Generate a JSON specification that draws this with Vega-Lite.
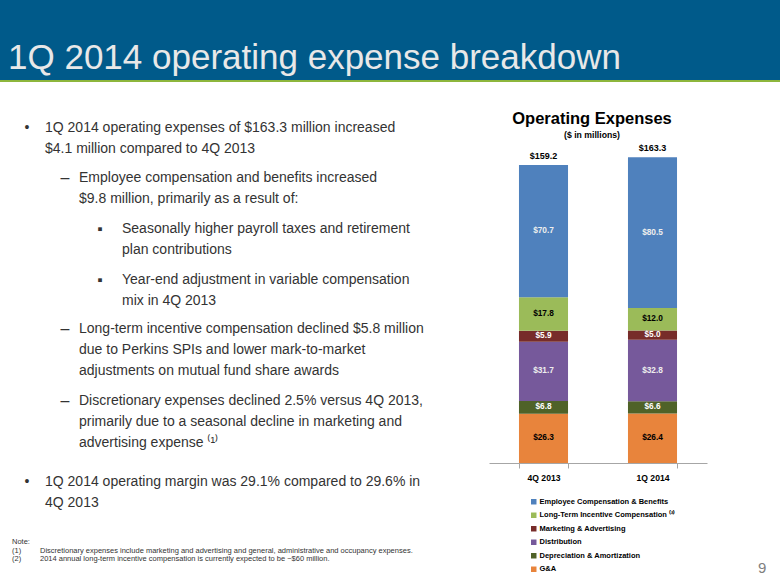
{
  "$schema": "https://vega.github.io/schema/vega-lite/v6.json",
  "padding": 0,
  "background": "white",
  "spacing": 0,
  "config": {
    "view": {"stroke": null},
    "concat": {"spacing": 0},
    "font": "Liberation Sans, Arial, sans-serif"
  },
  "datasets": {
    "bullets": [
      {"para": 1, "line": 1, "level": 0, "marker": "•", "text": "1Q 2014 operating expenses of $163.3 million increased"},
      {"para": 1, "line": 2, "level": 0, "marker": "", "text": "$4.1 million compared to 4Q 2013"},
      {"para": 2, "line": 1, "level": 1, "marker": "–", "text": "Employee compensation and benefits increased"},
      {"para": 2, "line": 2, "level": 1, "marker": "", "text": "$9.8 million, primarily as a result of:"},
      {"para": 3, "line": 1, "level": 2, "marker": "▪", "text": "Seasonally higher payroll taxes and retirement"},
      {"para": 3, "line": 2, "level": 2, "marker": "", "text": "plan contributions"},
      {"para": 4, "line": 1, "level": 2, "marker": "▪", "text": "Year-end adjustment in variable compensation"},
      {"para": 4, "line": 2, "level": 2, "marker": "", "text": "mix in 4Q 2013"},
      {"para": 5, "line": 1, "level": 1, "marker": "–", "text": "Long-term incentive compensation declined $5.8 million"},
      {"para": 5, "line": 2, "level": 1, "marker": "", "text": "due to Perkins SPIs and lower mark-to-market"},
      {"para": 5, "line": 3, "level": 1, "marker": "", "text": "adjustments on mutual fund share awards"},
      {"para": 6, "line": 1, "level": 1, "marker": "–", "text": "Discretionary expenses declined 2.5% versus 4Q 2013,"},
      {"para": 6, "line": 2, "level": 1, "marker": "", "text": "primarily due to a seasonal decline in marketing and"},
      {"para": 6, "line": 3, "level": 1, "marker": "", "text": "advertising expense ⁽¹⁾"},
      {"para": 7, "line": 1, "level": 0, "marker": "•", "text": "1Q 2014 operating margin was 29.1% compared to 29.6% in"},
      {"para": 7, "line": 2, "level": 0, "marker": "", "text": "4Q 2013"}
    ],
    "expenses": [
      {"quarter": "4Q 2013", "category": "G&A", "value": 26.3},
      {"quarter": "4Q 2013", "category": "Depreciation & Amortization", "value": 6.8},
      {"quarter": "4Q 2013", "category": "Distribution", "value": 31.7},
      {"quarter": "4Q 2013", "category": "Marketing & Advertising", "value": 5.9},
      {"quarter": "4Q 2013", "category": "Long-Term Incentive Compensation", "value": 17.8},
      {"quarter": "4Q 2013", "category": "Employee Compensation & Benefits", "value": 70.7},
      {"quarter": "1Q 2014", "category": "G&A", "value": 26.4},
      {"quarter": "1Q 2014", "category": "Depreciation & Amortization", "value": 6.6},
      {"quarter": "1Q 2014", "category": "Distribution", "value": 32.8},
      {"quarter": "1Q 2014", "category": "Marketing & Advertising", "value": 5.0},
      {"quarter": "1Q 2014", "category": "Long-Term Incentive Compensation", "value": 12.0},
      {"quarter": "1Q 2014", "category": "Employee Compensation & Benefits", "value": 80.5}
    ],
    "notes": [
      {"line": 1, "col": 0, "t": "Note:"},
      {"line": 2, "col": 0, "t": "(1)"},
      {"line": 2, "col": 1, "t": "Discretionary expenses include marketing and advertising and general, administrative and occupancy expenses."},
      {"line": 3, "col": 0, "t": "(2)"},
      {"line": 3, "col": 1, "t": "2014 annual long-term incentive compensation is currently expected to be ~$60 million."}
    ]
  },
  "vconcat": [
    {
      "width": 780,
      "height": 80,
      "view": {"fill": "#005a8a", "stroke": null},
      "title": {"text": "1Q 2014 operating expense breakdown", "orient": "bottom", "anchor": "start", "frame": "group", "offset": -11, "dx": 8, "baseline": "alphabetic", "font": "Liberation Sans", "fontSize": 35, "fontWeight": "normal", "color": "#e8e8e8"},
      "data": {"values": []},
      "mark": "point"
    },
    {
      "width": 780,
      "height": 2,
      "view": {"fill": "#8db63c", "stroke": null},
      "data": {"values": []},
      "mark": "point"
    },
    {
      "spacing": 0,
      "hconcat": [
        {
          "spacing": 0,
          "vconcat": [
            {"width": 489, "height": 35, "data": {"values": []}, "mark": "point"},
            {"width": 489, "height": 50, "data": {"name": "bullets"}, "transform": [{"filter": "datum.para == 1"}],
             "layer": [
               {"mark": {"type": "text", "align": "center", "baseline": "middle", "fontSize": 14, "color": "#333333"},
                "encoding": {"x": {"field": "level", "type": "quantitative", "scale": {"domain": [0, 1, 2], "range": [27, 65, 100]}, "axis": null}, "y": {"field": "line", "type": "quantitative", "scale": {"domain": [0.5, 3.5], "range": [0, 63]}, "axis": null}, "text": {"field": "marker"}}},
               {"mark": {"type": "text", "align": "left", "baseline": "middle", "fontSize": 14, "color": "#333333"},
                "encoding": {"x": {"field": "level", "type": "quantitative", "scale": {"domain": [0, 1, 2], "range": [45, 79, 122]}, "axis": null}, "y": {"field": "line", "type": "quantitative", "scale": {"domain": [0.5, 3.5], "range": [0, 63]}, "axis": null}, "text": {"field": "text"}}}
             ],
             "resolve": {"scale": {"x": "independent"}}},
            {"width": 489, "height": 51, "data": {"name": "bullets"}, "transform": [{"filter": "datum.para == 2"}],
             "layer": [
               {"mark": {"type": "text", "align": "center", "baseline": "middle", "fontSize": 16, "color": "#333333"},
                "encoding": {"x": {"field": "level", "type": "quantitative", "scale": {"domain": [0, 1, 2], "range": [27, 65, 100]}, "axis": null}, "y": {"field": "line", "type": "quantitative", "scale": {"domain": [0.5, 3.5], "range": [0, 63]}, "axis": null}, "text": {"field": "marker"}}},
               {"mark": {"type": "text", "align": "left", "baseline": "middle", "fontSize": 14, "color": "#333333"},
                "encoding": {"x": {"field": "level", "type": "quantitative", "scale": {"domain": [0, 1, 2], "range": [45, 79, 122]}, "axis": null}, "y": {"field": "line", "type": "quantitative", "scale": {"domain": [0.5, 3.5], "range": [0, 63]}, "axis": null}, "text": {"field": "text"}}}
             ],
             "resolve": {"scale": {"x": "independent"}}},
            {"width": 489, "height": 51, "data": {"name": "bullets"}, "transform": [{"filter": "datum.para == 3"}],
             "layer": [
               {"mark": {"type": "text", "align": "center", "baseline": "middle", "fontSize": 15, "color": "#333333"},
                "encoding": {"x": {"field": "level", "type": "quantitative", "scale": {"domain": [0, 1, 2], "range": [27, 65, 100]}, "axis": null}, "y": {"field": "line", "type": "quantitative", "scale": {"domain": [0.5, 3.5], "range": [0, 63]}, "axis": null}, "text": {"field": "marker"}}},
               {"mark": {"type": "text", "align": "left", "baseline": "middle", "fontSize": 14, "color": "#333333"},
                "encoding": {"x": {"field": "level", "type": "quantitative", "scale": {"domain": [0, 1, 2], "range": [45, 79, 122]}, "axis": null}, "y": {"field": "line", "type": "quantitative", "scale": {"domain": [0.5, 3.5], "range": [0, 63]}, "axis": null}, "text": {"field": "text"}}}
             ],
             "resolve": {"scale": {"x": "independent"}}},
            {"width": 489, "height": 49, "data": {"name": "bullets"}, "transform": [{"filter": "datum.para == 4"}],
             "layer": [
               {"mark": {"type": "text", "align": "center", "baseline": "middle", "fontSize": 15, "color": "#333333"},
                "encoding": {"x": {"field": "level", "type": "quantitative", "scale": {"domain": [0, 1, 2], "range": [27, 65, 100]}, "axis": null}, "y": {"field": "line", "type": "quantitative", "scale": {"domain": [0.5, 3.5], "range": [0, 63]}, "axis": null}, "text": {"field": "marker"}}},
               {"mark": {"type": "text", "align": "left", "baseline": "middle", "fontSize": 14, "color": "#333333"},
                "encoding": {"x": {"field": "level", "type": "quantitative", "scale": {"domain": [0, 1, 2], "range": [45, 79, 122]}, "axis": null}, "y": {"field": "line", "type": "quantitative", "scale": {"domain": [0.5, 3.5], "range": [0, 63]}, "axis": null}, "text": {"field": "text"}}}
             ],
             "resolve": {"scale": {"x": "independent"}}},
            {"width": 489, "height": 72, "data": {"name": "bullets"}, "transform": [{"filter": "datum.para == 5"}],
             "layer": [
               {"mark": {"type": "text", "align": "center", "baseline": "middle", "fontSize": 16, "color": "#333333"},
                "encoding": {"x": {"field": "level", "type": "quantitative", "scale": {"domain": [0, 1, 2], "range": [27, 65, 100]}, "axis": null}, "y": {"field": "line", "type": "quantitative", "scale": {"domain": [0.5, 3.5], "range": [0, 63]}, "axis": null}, "text": {"field": "marker"}}},
               {"mark": {"type": "text", "align": "left", "baseline": "middle", "fontSize": 14, "color": "#333333"},
                "encoding": {"x": {"field": "level", "type": "quantitative", "scale": {"domain": [0, 1, 2], "range": [45, 79, 122]}, "axis": null}, "y": {"field": "line", "type": "quantitative", "scale": {"domain": [0.5, 3.5], "range": [0, 63]}, "axis": null}, "text": {"field": "text"}}}
             ],
             "resolve": {"scale": {"x": "independent"}}},
            {"width": 489, "height": 81, "data": {"name": "bullets"}, "transform": [{"filter": "datum.para == 6"}],
             "layer": [
               {"mark": {"type": "text", "align": "center", "baseline": "middle", "fontSize": 16, "color": "#333333"},
                "encoding": {"x": {"field": "level", "type": "quantitative", "scale": {"domain": [0, 1, 2], "range": [27, 65, 100]}, "axis": null}, "y": {"field": "line", "type": "quantitative", "scale": {"domain": [0.5, 3.5], "range": [0, 63]}, "axis": null}, "text": {"field": "marker"}}},
               {"mark": {"type": "text", "align": "left", "baseline": "middle", "fontSize": 14, "color": "#333333"},
                "encoding": {"x": {"field": "level", "type": "quantitative", "scale": {"domain": [0, 1, 2], "range": [45, 79, 122]}, "axis": null}, "y": {"field": "line", "type": "quantitative", "scale": {"domain": [0.5, 3.5], "range": [0, 63]}, "axis": null}, "text": {"field": "text"}}}
             ],
             "resolve": {"scale": {"x": "independent"}}},
            {"width": 489, "height": 43, "data": {"name": "bullets"}, "transform": [{"filter": "datum.para == 7"}],
             "layer": [
               {"mark": {"type": "text", "align": "center", "baseline": "middle", "fontSize": 14, "color": "#333333"},
                "encoding": {"x": {"field": "level", "type": "quantitative", "scale": {"domain": [0, 1, 2], "range": [27, 65, 100]}, "axis": null}, "y": {"field": "line", "type": "quantitative", "scale": {"domain": [0.5, 3.5], "range": [0, 63]}, "axis": null}, "text": {"field": "marker"}}},
               {"mark": {"type": "text", "align": "left", "baseline": "middle", "fontSize": 14, "color": "#333333"},
                "encoding": {"x": {"field": "level", "type": "quantitative", "scale": {"domain": [0, 1, 2], "range": [45, 79, 122]}, "axis": null}, "y": {"field": "line", "type": "quantitative", "scale": {"domain": [0.5, 3.5], "range": [0, 63]}, "axis": null}, "text": {"field": "text"}}}
             ],
             "resolve": {"scale": {"x": "independent"}}},
            {
              "width": 489,
              "height": 71,
              "data": {"name": "notes"},
              "mark": {"type": "text", "align": "left", "baseline": "middle", "fontSize": 7.5, "color": "#333333"},
              "encoding": {
                "x": {"field": "col", "type": "quantitative", "scale": {"domain": [0, 1], "range": [12, 40]}, "axis": null},
                "y": {"field": "line", "type": "quantitative", "scale": {"domain": [1, 3], "range": [28, 45]}, "axis": null},
                "text": {"field": "t"}
              }
            }
          ]
        },
        {
          "width": 218,
          "height": 381,
          "data": {"name": "expenses"},
          "transform": [{"window": [{"op": "row_number", "as": "rowidx"}]}],
          "title": {"text": "Operating Expenses", "subtitle": "($ in millions)", "anchor": "middle", "frame": "group", "offset": -58, "dx": -6, "fontSize": 16.5, "fontWeight": "bold", "color": "black", "subtitleFontSize": 8.7, "subtitleFontWeight": "bold", "subtitleColor": "black", "subtitlePadding": 4},
          "encoding": {
            "x": {"field": "quarter", "type": "nominal", "sort": ["4Q 2013", "1Q 2014"], "scale": {"paddingInner": 0.55, "paddingOuter": 0.275},
                  "axis": {"title": null, "labelAngle": 0, "labelFontSize": 8.6, "labelFontWeight": "bold", "labelColor": "black", "domainColor": "#a6a6a6", "tickColor": "#a6a6a6", "tickBand": "extent", "tickSize": 5, "labelPadding": 5, "grid": false}}
          },
          "layer": [
            {
              "mark": {"type": "bar"},
              "encoding": {
                "y": {"field": "value", "type": "quantitative", "stack": "zero", "scale": {"domain": [0, 203.5], "nice": false, "zero": true}, "axis": null},
                "order": {"field": "rowidx", "type": "quantitative", "sort": "ascending"},
                "color": {"field": "category", "type": "nominal",
                          "scale": {"domain": ["Employee Compensation & Benefits", "Long-Term Incentive Compensation", "Marketing & Advertising", "Distribution", "Depreciation & Amortization", "G&A"], "range": ["#4f81bd", "#9bbb59", "#772c2a", "#76599b", "#4f6228", "#e8843c"]},
                          "legend": {"title": "9", "titleOrient": "right", "titleAnchor": "end", "titleBaseline": "alphabetic", "titleAlign": "left", "titlePadding": 83, "titleFont": "Liberation Sans", "titleFontSize": 15, "titleFontWeight": "normal", "titleColor": "#7f7f7f",
                                     "orient": "none", "legendX": 41, "legendY": 416, "symbolType": "square", "symbolSize": 30, "symbolStrokeWidth": 0, "labelFontSize": 7.5, "labelFontWeight": "bold", "labelColor": "black", "labelOffset": 2, "labelLimit": 400, "rowPadding": 4.5, "padding": 0,
                                     "labelExpr": "datum.label == 'Long-Term Incentive Compensation' ? datum.label + ' ⁽²⁾' : datum.label"}}
              }
            },
            {
              "mark": {"type": "text", "fontSize": 8.3, "fontWeight": "bold", "baseline": "middle"},
              "encoding": {
                "y": {"field": "value", "type": "quantitative", "stack": "zero", "bandPosition": 0.5},
                "order": {"field": "rowidx", "type": "quantitative", "sort": "ascending"},
                "color": {"field": "category", "type": "nominal",
                          "scale": {"domain": ["Employee Compensation & Benefits", "Long-Term Incentive Compensation", "Marketing & Advertising", "Distribution", "Depreciation & Amortization", "G&A"], "range": ["#eeeeee", "black", "white", "#eeeeee", "white", "black"]},
                          "legend": null},
                "text": {"field": "value", "type": "quantitative", "format": "$.1f"}
              }
            },
            {
              "mark": {"type": "text", "fontSize": 9, "fontWeight": "bold", "baseline": "middle", "dy": -9, "color": "black"},
              "encoding": {
                "y": {"aggregate": "sum", "field": "value", "type": "quantitative"},
                "text": {"aggregate": "sum", "field": "value", "type": "quantitative", "format": "$.1f"}
              }
            }
          ],
          "resolve": {"scale": {"color": "independent"}}
        }
      ]
    }
  ]
}
